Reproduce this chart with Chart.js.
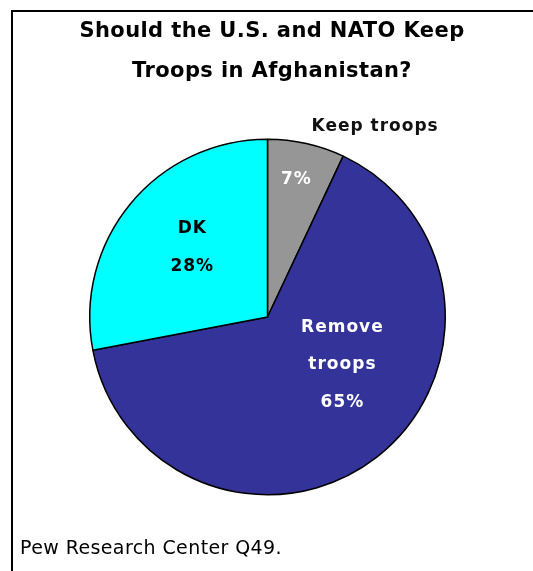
<!DOCTYPE html>
<html lang="en">
<head>
<meta charset="utf-8">
<title>Should the U.S. and NATO Keep Troops in Afghanistan?</title>
<script src="https://cdn.jsdelivr.net/npm/chart.js@4.4.1/dist/chart.umd.min.js"></script>
<style>
  html, body { margin: 0; padding: 0; background: #fff; }
  #wrap { position: relative; width: 533px; height: 571px; overflow: hidden; }
  #frame {
    position: absolute; left: 11px; top: 10px; width: 600px; height: 600px;
    border-top: 2px solid #000; border-left: 2px solid #000;
  }
  #troopsPie { position: absolute; left: 0; top: 0; }
</style>
</head>
<body>
<div id="wrap">
  <div id="frame"></div>
  <canvas id="troopsPie"></canvas>
</div>
<script>
// data
const categories = ['Keep troops', 'Remove troops', 'DK'];
const shares = [7, 65, 28];
const sliceColors = ['#969696', '#333399', '#00ffff'];
const titleLines = ['Should the U.S. and NATO Keep', 'Troops in Afghanistan?'];
const sourceNote = 'Pew Research Center Q49.';

// how each slice label is laid out: t = position along the arc (0..1), f = share of radius
const labelLayout = [
  [
    { lines: ['pct'], t: 0.47, f: 0.79, color: '#ffffff' },
    { lines: ['Keep troops'], t: 1.17, f: 1.23, color: '#111111' }
  ],
  [{ lines: ['Remove', 'troops', 'pct'], t: 0.416, f: 0.5, color: '#ffffff' }],
  [{ lines: ['DK', 'pct'], t: 0.53, f: 0.575, color: '#000000' }]
];

const FONT = '"DejaVu Sans", Verdana, sans-serif';

/**
 * Draws the slice labels from the arc geometry.
 */
const sliceLabels = {
  id: 'sliceLabels',
  afterDatasetsDraw(chart) {
    const ctx = chart.ctx;
    const arcs = chart.getDatasetMeta(0).data;
    ctx.save();
    ctx.textAlign = 'center';
    ctx.textBaseline = 'middle';
    ctx.font = 'bold 17px ' + FONT;
    ctx.letterSpacing = '1px';
    arcs.forEach((arc, i) => {
      const p = arc.getProps(['x', 'y', 'startAngle', 'endAngle', 'outerRadius'], true);
      labelLayout[i].forEach(lab => {
        const a = p.startAngle + lab.t * (p.endAngle - p.startAngle);
        const cx = p.x + Math.cos(a) * lab.f * p.outerRadius;
        const cy = p.y + Math.sin(a) * lab.f * p.outerRadius;
        const lineH = 37.5;
        const top = cy - (lab.lines.length - 1) * lineH / 2;
        ctx.fillStyle = lab.color;
        lab.lines.forEach((ln, k) => {
          const txt = ln === 'pct' ? `${shares[i]}%` : ln;
          ctx.fillText(txt, cx, top + k * lineH);
        });
      });
    });
    ctx.restore();
  }
};

/**
 * Draws title and source note.
 */
const pageText = {
  id: 'pageText',
  afterDraw(chart) {
    const ctx = chart.ctx;
    ctx.save();
    ctx.fillStyle = '#000';
    ctx.textBaseline = 'alphabetic';
    ctx.textAlign = 'center';
    ctx.font = 'bold 21px ' + FONT;
    ctx.letterSpacing = '0.4px';
    titleLines.forEach((ln, k) => ctx.fillText(ln, 272, 37 + k * 40));
    ctx.textAlign = 'left';
    ctx.font = '19px ' + FONT;
    ctx.letterSpacing = '0.4px';
    ctx.fillText(sourceNote, 20, 554);
    ctx.restore();
  }
};

/**
 * Makes pie chart.
 * @param {HTMLCanvasElement} canvas
 * @returns {Chart}
 */
function renderPie(canvas) {
  return new Chart(canvas, {
    type: 'pie',
    data: {
      labels: categories,
      datasets: [{
        data: shares,
        backgroundColor: sliceColors,
        borderColor: '#000',
        borderWidth: 1.5,
        hoverOffset: 0
      }]
    },
    options: {
      responsive: false,
      animation: false,
      events: [],
      layout: { padding: { left: 89, right: 87, top: 138, bottom: 75 } },
      plugins: {
        legend: { display: false },
        tooltip: { enabled: false },
        title: { display: false }
      }
    },
    plugins: [sliceLabels, pageText]
  });
}

function init() {
  const canvas = document.getElementById('troopsPie');
  canvas.width = 533;
  canvas.height = 571;
  renderPie(canvas);
}

if (document.readyState === 'loading') {
  document.addEventListener('DOMContentLoaded', init);
} else {
  init();
}
</script>
</body>
</html>
